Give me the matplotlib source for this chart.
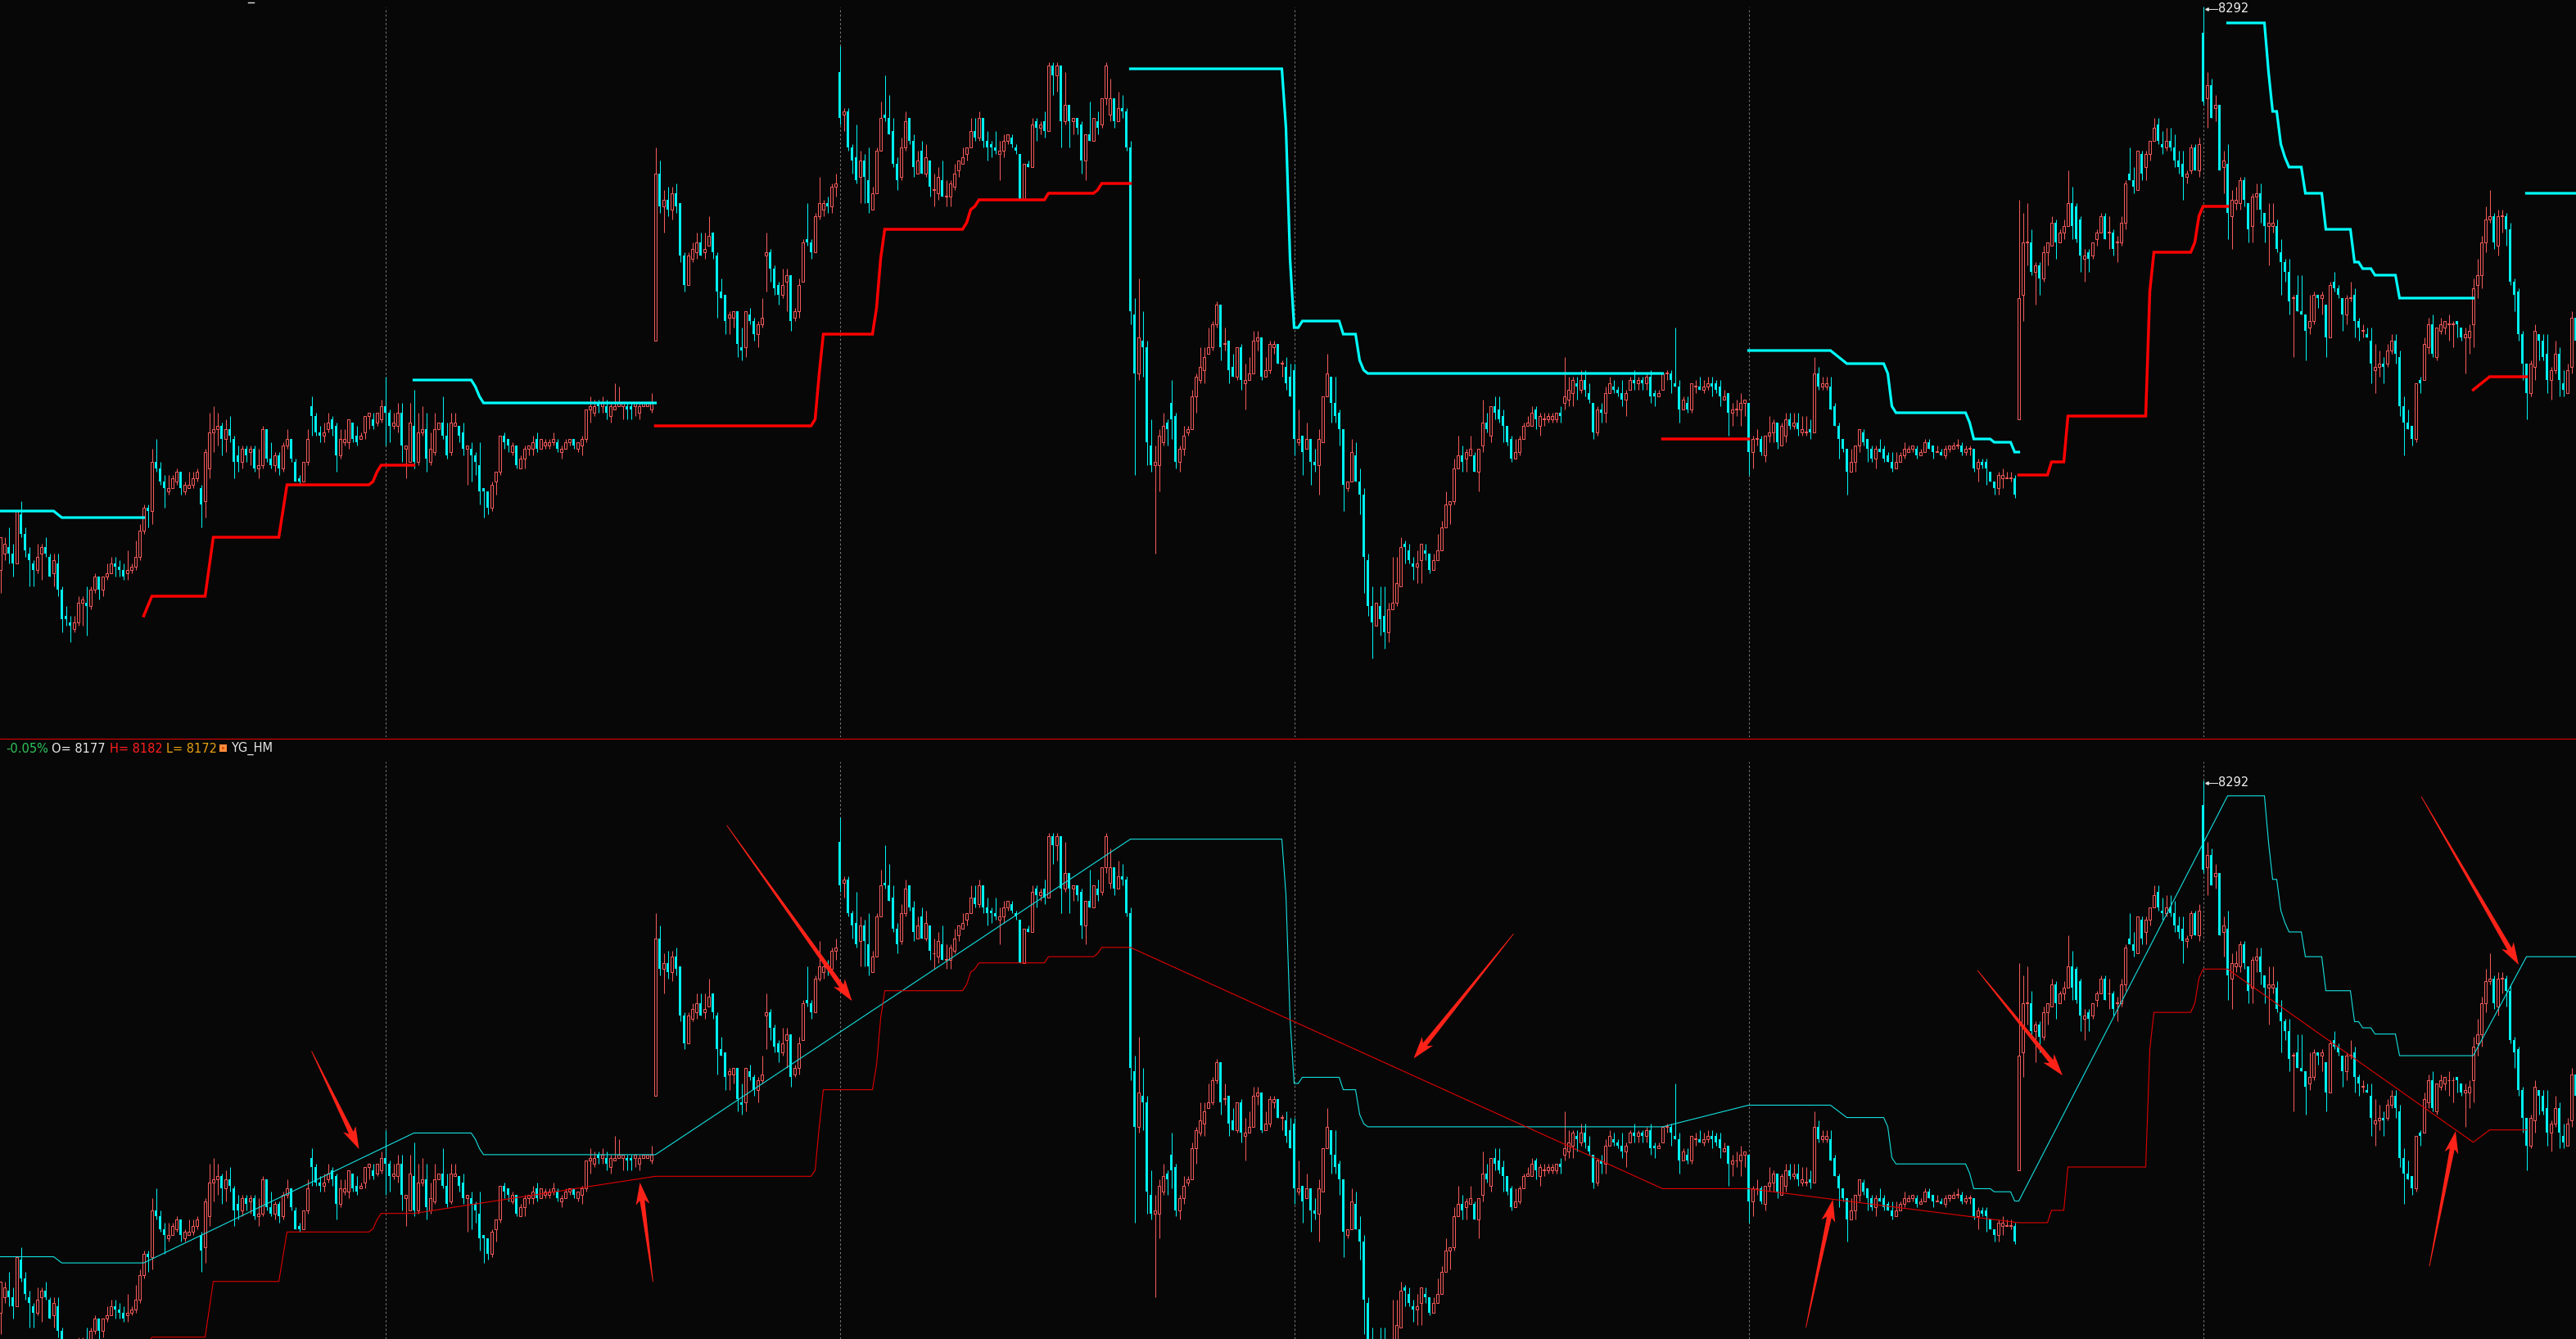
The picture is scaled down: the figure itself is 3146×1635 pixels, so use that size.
import numpy as np
import matplotlib.pyplot as plt
from matplotlib.lines import Line2D
from matplotlib.patches import Polygon, Rectangle
from matplotlib.transforms import IdentityTransform

# ---- candle data (one bar per row position) ----
opens = [
    8120, 8125, 8127, 8125, 8122, 8137, 8131, 8125, 8122, 8120,
    8125, 8127, 8124, 8119, 8122, 8114, 8106, 8104, 8102, 8104,
    8110, 8110, 8109, 8114, 8118, 8114, 8118, 8119, 8122, 8121,
    8120, 8119, 8120, 8121, 8124, 8132, 8139, 8138, 8153, 8151,
    8147, 8144, 8145, 8147, 8150, 8144, 8145, 8146, 8148, 8145,
    8141, 8151, 8162, 8163, 8164, 8160, 8163, 8160, 8155, 8153,
    8157, 8156, 8157, 8151, 8152, 8163, 8154, 8152, 8155, 8151,
    8158, 8160, 8153, 8148, 8147, 8153, 8170, 8167, 8162, 8161,
    8163, 8166, 8164, 8155, 8159, 8159, 8165, 8161, 8160, 8162,
    8167, 8166, 8165, 8166, 8170, 8168, 8164, 8164, 8168, 8157,
    8153, 8164, 8153, 8162, 8163, 8153, 8156, 8163, 8165, 8161,
    8156, 8164, 8164, 8162, 8157, 8157, 8155, 8152, 8145, 8144,
    8139, 8147, 8150, 8161, 8160, 8156, 8158, 8151, 8154, 8157,
    8157, 8160, 8157, 8158, 8158, 8159, 8159, 8156, 8157, 8159,
    8160, 8157, 8158, 8160, 8169, 8168, 8171, 8170, 8170, 8167,
    8169, 8170, 8170, 8170, 8170, 8170, 8168, 8170, 8170, 8169,
    8190, 8241, 8231, 8233, 8230, 8235, 8232, 8216, 8207, 8215,
    8217, 8220, 8217, 8219, 8223, 8216, 8205, 8204, 8197, 8197,
    8199, 8188, 8188, 8198, 8196, 8192, 8195, 8216, 8217, 8212,
    8207, 8204, 8208, 8210, 8197, 8199, 8208, 8221, 8220, 8217,
    8228, 8230, 8232, 8231, 8237, 8272, 8259, 8260, 8249, 8246,
    8240, 8245, 8239, 8230, 8235, 8248, 8259, 8258, 8254, 8244,
    8240, 8249, 8258, 8251, 8241, 8248, 8241, 8245, 8236, 8235,
    8239, 8234, 8234, 8237, 8242, 8244, 8247, 8249, 8254, 8252,
    8258, 8251, 8250, 8249, 8247, 8248, 8251, 8252, 8249, 8247,
    8233, 8244, 8243, 8257, 8255, 8257, 8254, 8274, 8271, 8274,
    8257, 8262, 8257, 8258, 8256, 8245, 8253, 8251, 8257, 8256,
    8264, 8259, 8264, 8257, 8261, 8260, 8249, 8198, 8180, 8190,
    8188, 8158, 8152, 8152, 8159, 8165, 8171, 8167, 8153, 8157,
    8162, 8163, 8173, 8178, 8181, 8186, 8188, 8195, 8201, 8189,
    8190, 8182, 8179, 8188, 8177, 8178, 8180, 8190, 8191, 8179,
    8181, 8188, 8189, 8183, 8182, 8179, 8181, 8159, 8161, 8157,
    8160, 8153, 8152, 8159, 8173, 8179, 8171, 8168, 8163, 8145,
    8147, 8155, 8147, 8143, 8123, 8109, 8103, 8109, 8106, 8101,
    8108, 8110, 8115, 8128, 8126, 8122, 8121, 8123, 8126, 8125,
    8120, 8123, 8126, 8133, 8140, 8141, 8151, 8155, 8154, 8155,
    8155, 8150, 8158, 8165, 8161, 8170, 8169, 8167, 8164, 8160,
    8154, 8156, 8160, 8164, 8164, 8169, 8164, 8166, 8166, 8166,
    8166, 8168, 8171, 8172, 8174, 8177, 8175, 8178, 8174, 8171,
    8162, 8169, 8168, 8174, 8176, 8175, 8174, 8172, 8175, 8178,
    8177, 8178, 8177, 8179, 8174, 8173, 8175, 8180, 8180, 8177,
    8176, 8169, 8171, 8169, 8176, 8176, 8175, 8176, 8177, 8177,
    8176, 8172, 8174, 8168, 8169, 8169, 8171, 8171, 8156, 8160,
    8160, 8155, 8161, 8162, 8165, 8158, 8161, 8166, 8164, 8165,
    8162, 8162, 8163, 8162, 8180, 8176, 8176, 8176, 8170, 8164,
    8160, 8157, 8150, 8153, 8158, 8162, 8160, 8157, 8154, 8157,
    8157, 8155, 8153, 8151, 8153, 8155, 8156, 8157, 8157, 8155,
    8156, 8159, 8158, 8156, 8156, 8155, 8157, 8157, 8158, 8158,
    8156, 8157, 8157, 8151, 8153, 8153, 8150, 8147, 8145, 8148,
    8148, 8148, 8148, 8166, 8204, 8220, 8220, 8211, 8213, 8209,
    8217, 8219, 8226, 8220, 8223, 8225, 8232, 8231, 8227, 8215,
    8217, 8216, 8221, 8223, 8228, 8223, 8223, 8220, 8220, 8226,
    8241, 8239, 8236, 8247, 8243, 8247, 8251, 8256, 8250, 8249,
    8251, 8249, 8245, 8244, 8240, 8242, 8249, 8242, 8284, 8264,
    8268, 8261, 8262, 8243, 8244, 8228, 8232, 8232, 8239, 8232,
    8225, 8234, 8235, 8229, 8225, 8225, 8225, 8217, 8214, 8211,
    8203, 8204, 8199, 8198, 8194, 8196, 8204, 8203, 8201, 8191,
    8208, 8206, 8203, 8198, 8203, 8204, 8196, 8193, 8192, 8190,
    8181, 8182, 8183, 8183, 8187, 8190, 8185, 8170, 8165, 8164,
    8160, 8178, 8178, 8188, 8195, 8185, 8193, 8194, 8195, 8195,
    8196, 8194, 8191, 8191, 8195, 8207, 8210, 8220, 8227, 8228,
    8219, 8228, 8228, 8224, 8208, 8205, 8192, 8183, 8174, 8182,
    8192, 8190, 8186, 8178, 8181, 8186, 8177, 8174, 8182, 8197,
]
highs = [
    8130, 8130, 8133, 8128, 8138, 8141, 8133, 8127, 8123, 8128,
    8128, 8130, 8125, 8125, 8125, 8115, 8109, 8106, 8106, 8112,
    8112, 8115, 8115, 8119, 8118, 8118, 8122, 8124, 8124, 8123,
    8122, 8126, 8122, 8129, 8134, 8140, 8140, 8157, 8160, 8153,
    8149, 8149, 8149, 8151, 8150, 8147, 8150, 8150, 8151, 8146,
    8157, 8168, 8170, 8168, 8165, 8166, 8167, 8161, 8158, 8158,
    8158, 8158, 8158, 8157, 8164, 8163, 8159, 8156, 8156, 8159,
    8163, 8160, 8154, 8149, 8153, 8163, 8173, 8168, 8164, 8165,
    8168, 8167, 8165, 8163, 8163, 8166, 8165, 8164, 8162, 8167,
    8168, 8168, 8168, 8172, 8179, 8169, 8168, 8171, 8171, 8158,
    8171, 8175, 8168, 8170, 8168, 8162, 8168, 8165, 8173, 8165,
    8168, 8168, 8164, 8165, 8158, 8159, 8156, 8159, 8145, 8144,
    8147, 8150, 8161, 8162, 8160, 8159, 8158, 8155, 8158, 8158,
    8161, 8162, 8160, 8160, 8160, 8162, 8160, 8158, 8160, 8160,
    8160, 8159, 8161, 8169, 8173, 8172, 8172, 8173, 8172, 8171,
    8177, 8176, 8171, 8171, 8171, 8171, 8171, 8171, 8171, 8174,
    8249, 8245, 8236, 8237, 8237, 8238, 8232, 8217, 8217, 8220,
    8223, 8223, 8223, 8228, 8223, 8217, 8209, 8204, 8199, 8199,
    8199, 8194, 8199, 8200, 8197, 8196, 8203, 8223, 8218, 8213,
    8208, 8212, 8212, 8210, 8200, 8209, 8221, 8232, 8221, 8229,
    8240, 8233, 8234, 8238, 8241, 8280, 8261, 8261, 8250, 8256,
    8248, 8247, 8249, 8237, 8249, 8263, 8271, 8265, 8258, 8246,
    8252, 8260, 8258, 8253, 8248, 8251, 8250, 8245, 8241, 8243,
    8245, 8239, 8239, 8244, 8245, 8249, 8249, 8258, 8258, 8260,
    8258, 8254, 8251, 8254, 8251, 8253, 8253, 8253, 8250, 8247,
    8244, 8245, 8258, 8258, 8257, 8260, 8275, 8275, 8275, 8274,
    8272, 8262, 8258, 8258, 8257, 8253, 8263, 8258, 8260, 8264,
    8275, 8270, 8264, 8266, 8265, 8261, 8251, 8203, 8209, 8199,
    8190, 8166, 8158, 8163, 8168, 8166, 8178, 8168, 8158, 8164,
    8164, 8175, 8180, 8188, 8188, 8194, 8196, 8202, 8201, 8194,
    8190, 8186, 8188, 8189, 8183, 8185, 8193, 8193, 8191, 8185,
    8190, 8190, 8189, 8184, 8185, 8183, 8183, 8169, 8161, 8165,
    8160, 8157, 8163, 8173, 8186, 8179, 8179, 8169, 8163, 8147,
    8160, 8159, 8151, 8145, 8125, 8115, 8110, 8115, 8115, 8110,
    8124, 8124, 8130, 8129, 8128, 8124, 8126, 8128, 8128, 8125,
    8125, 8131, 8135, 8144, 8141, 8154, 8161, 8158, 8157, 8161,
    8156, 8157, 8172, 8168, 8170, 8173, 8173, 8169, 8164, 8161,
    8160, 8161, 8165, 8167, 8170, 8170, 8168, 8168, 8168, 8168,
    8168, 8170, 8185, 8179, 8179, 8179, 8181, 8181, 8177, 8171,
    8170, 8171, 8176, 8179, 8178, 8176, 8178, 8175, 8179, 8181,
    8179, 8179, 8180, 8181, 8175, 8175, 8180, 8181, 8181, 8194,
    8178, 8173, 8173, 8177, 8178, 8179, 8178, 8179, 8179, 8178,
    8178, 8175, 8174, 8171, 8172, 8174, 8172, 8171, 8161, 8163,
    8161, 8161, 8167, 8166, 8165, 8165, 8168, 8168, 8168, 8168,
    8167, 8167, 8166, 8185, 8182, 8179, 8179, 8179, 8171, 8165,
    8160, 8157, 8157, 8158, 8163, 8163, 8160, 8158, 8158, 8160,
    8158, 8156, 8156, 8156, 8156, 8159, 8158, 8158, 8158, 8157,
    8160, 8160, 8158, 8158, 8157, 8158, 8158, 8159, 8160, 8159,
    8158, 8158, 8157, 8154, 8154, 8154, 8150, 8147, 8150, 8151,
    8150, 8150, 8149, 8233, 8229, 8232, 8224, 8214, 8214, 8219,
    8220, 8228, 8227, 8224, 8227, 8242, 8237, 8232, 8228, 8218,
    8218, 8220, 8224, 8229, 8229, 8228, 8224, 8222, 8228, 8239,
    8249, 8243, 8248, 8248, 8248, 8251, 8258, 8258, 8254, 8255,
    8255, 8253, 8248, 8248, 8242, 8250, 8250, 8252, 8292, 8272,
    8270, 8265, 8262, 8248, 8250, 8236, 8237, 8240, 8240, 8232,
    8235, 8238, 8238, 8229, 8232, 8232, 8227, 8221, 8215, 8215,
    8204, 8210, 8210, 8198, 8204, 8205, 8204, 8205, 8201, 8208,
    8211, 8207, 8203, 8204, 8208, 8206, 8197, 8195, 8194, 8194,
    8189, 8187, 8185, 8189, 8192, 8192, 8187, 8173, 8169, 8164,
    8177, 8179, 8191, 8197, 8198, 8194, 8197, 8196, 8198, 8196,
    8196, 8194, 8194, 8195, 8209, 8215, 8222, 8231, 8236, 8229,
    8230, 8230, 8229, 8226, 8209, 8206, 8193, 8183, 8184, 8195,
    8192, 8192, 8192, 8182, 8190, 8188, 8181, 8183, 8199, 8199,
]
lows = [
    8113, 8123, 8122, 8118, 8122, 8130, 8124, 8115, 8115, 8119,
    8117, 8124, 8118, 8115, 8112, 8101, 8103, 8098, 8101, 8103,
    8103, 8100, 8108, 8113, 8111, 8112, 8117, 8119, 8118, 8118,
    8117, 8117, 8119, 8120, 8123, 8131, 8133, 8134, 8150, 8146,
    8139, 8143, 8145, 8146, 8143, 8143, 8145, 8145, 8147, 8133,
    8136, 8148, 8156, 8158, 8155, 8156, 8159, 8148, 8150, 8151,
    8153, 8152, 8150, 8148, 8151, 8153, 8151, 8150, 8149, 8150,
    8157, 8153, 8147, 8146, 8147, 8152, 8161, 8161, 8159, 8159,
    8162, 8161, 8150, 8154, 8158, 8157, 8159, 8158, 8160, 8160,
    8163, 8163, 8164, 8165, 8158, 8159, 8163, 8162, 8153, 8148,
    8153, 8151, 8152, 8161, 8150, 8152, 8155, 8163, 8160, 8154,
    8155, 8164, 8159, 8155, 8146, 8147, 8149, 8140, 8136, 8137,
    8138, 8143, 8149, 8157, 8156, 8155, 8151, 8151, 8151, 8155,
    8155, 8156, 8157, 8157, 8157, 8158, 8156, 8154, 8157, 8158,
    8157, 8156, 8155, 8159, 8165, 8167, 8168, 8168, 8166, 8165,
    8169, 8170, 8166, 8166, 8166, 8167, 8166, 8170, 8170, 8168,
    8190, 8229, 8223, 8228, 8227, 8229, 8214, 8205, 8207, 8214,
    8215, 8216, 8215, 8219, 8215, 8197, 8203, 8192, 8192, 8194,
    8185, 8184, 8185, 8195, 8190, 8188, 8194, 8205, 8208, 8204,
    8201, 8203, 8199, 8193, 8196, 8197, 8208, 8219, 8215, 8217,
    8227, 8228, 8229, 8229, 8234, 8256, 8254, 8248, 8241, 8238,
    8232, 8232, 8229, 8230, 8235, 8248, 8257, 8253, 8243, 8236,
    8239, 8248, 8250, 8240, 8241, 8241, 8240, 8234, 8231, 8233,
    8234, 8231, 8231, 8236, 8240, 8244, 8245, 8249, 8251, 8251,
    8249, 8245, 8246, 8247, 8239, 8246, 8250, 8249, 8247, 8233,
    8233, 8243, 8243, 8251, 8253, 8252, 8254, 8265, 8266, 8249,
    8256, 8249, 8253, 8253, 8241, 8239, 8251, 8251, 8253, 8255,
    8262, 8257, 8255, 8257, 8258, 8248, 8195, 8149, 8178, 8179,
    8152, 8150, 8125, 8144, 8158, 8158, 8160, 8151, 8150, 8155,
    8161, 8163, 8168, 8177, 8177, 8186, 8187, 8194, 8184, 8187,
    8177, 8179, 8178, 8175, 8169, 8178, 8180, 8187, 8178, 8179,
    8180, 8186, 8183, 8179, 8175, 8173, 8155, 8158, 8149, 8157,
    8146, 8150, 8143, 8159, 8173, 8165, 8165, 8158, 8138, 8144,
    8147, 8147, 8137, 8113, 8106, 8093, 8103, 8100, 8096, 8098,
    8108, 8109, 8115, 8122, 8122, 8117, 8116, 8116, 8123, 8119,
    8120, 8123, 8126, 8133, 8134, 8140, 8151, 8150, 8150, 8155,
    8150, 8144, 8156, 8162, 8159, 8166, 8165, 8159, 8158, 8153,
    8154, 8155, 8160, 8164, 8164, 8163, 8161, 8164, 8165, 8165,
    8165, 8165, 8169, 8170, 8170, 8172, 8174, 8173, 8171, 8160,
    8161, 8165, 8165, 8174, 8174, 8173, 8170, 8167, 8175, 8175,
    8175, 8175, 8175, 8171, 8170, 8173, 8175, 8178, 8174, 8176,
    8165, 8169, 8168, 8168, 8174, 8175, 8174, 8175, 8173, 8174,
    8170, 8172, 8161, 8164, 8167, 8164, 8167, 8149, 8151, 8158,
    8155, 8153, 8159, 8159, 8157, 8158, 8159, 8163, 8163, 8161,
    8161, 8161, 8160, 8162, 8175, 8175, 8175, 8169, 8164, 8154,
    8156, 8143, 8150, 8150, 8156, 8158, 8153, 8153, 8151, 8156,
    8153, 8153, 8150, 8151, 8153, 8154, 8156, 8156, 8154, 8155,
    8156, 8157, 8154, 8156, 8155, 8154, 8156, 8157, 8157, 8155,
    8155, 8155, 8150, 8147, 8151, 8146, 8147, 8143, 8143, 8145,
    8148, 8147, 8142, 8166, 8196, 8213, 8210, 8201, 8204, 8208,
    8213, 8219, 8215, 8220, 8221, 8225, 8221, 8220, 8211, 8208,
    8211, 8215, 8219, 8223, 8221, 8218, 8216, 8214, 8219, 8224,
    8239, 8235, 8236, 8239, 8239, 8245, 8251, 8250, 8247, 8248,
    8248, 8243, 8241, 8233, 8238, 8241, 8242, 8240, 8262, 8255,
    8258, 8257, 8242, 8235, 8221, 8218, 8230, 8230, 8231, 8220,
    8220, 8230, 8226, 8220, 8213, 8223, 8217, 8204, 8208, 8198,
    8185, 8199, 8198, 8184, 8192, 8195, 8200, 8198, 8185, 8191,
    8205, 8203, 8193, 8195, 8202, 8191, 8190, 8191, 8191, 8177,
    8174, 8179, 8177, 8182, 8186, 8183, 8167, 8155, 8163, 8158,
    8159, 8174, 8178, 8186, 8185, 8184, 8192, 8192, 8190, 8188,
    8191, 8190, 8180, 8186, 8188, 8203, 8206, 8217, 8226, 8218,
    8216, 8223, 8219, 8207, 8199, 8190, 8178, 8166, 8173, 8178,
    8184, 8184, 8174, 8172, 8180, 8173, 8173, 8174, 8180, 8188,
]
closes = [
    8130, 8128, 8125, 8122, 8138, 8131, 8126, 8123, 8120, 8124,
    8127, 8125, 8118, 8123, 8114, 8105, 8105, 8103, 8104, 8110,
    8111, 8109, 8114, 8118, 8114, 8118, 8119, 8122, 8121, 8120,
    8118, 8120, 8121, 8124, 8132, 8139, 8138, 8153, 8151, 8147,
    8145, 8145, 8148, 8150, 8145, 8146, 8146, 8148, 8150, 8140,
    8156, 8162, 8163, 8164, 8160, 8163, 8161, 8153, 8153, 8157,
    8155, 8157, 8151, 8152, 8163, 8154, 8152, 8155, 8151, 8158,
    8160, 8154, 8147, 8147, 8153, 8160, 8167, 8162, 8161, 8162,
    8165, 8163, 8155, 8160, 8160, 8166, 8160, 8159, 8161, 8167,
    8168, 8164, 8168, 8170, 8168, 8164, 8165, 8168, 8158, 8158,
    8165, 8153, 8162, 8163, 8154, 8157, 8163, 8165, 8161, 8155,
    8165, 8165, 8161, 8157, 8158, 8155, 8153, 8144, 8144, 8139,
    8146, 8150, 8161, 8159, 8158, 8158, 8152, 8154, 8157, 8158,
    8159, 8157, 8160, 8159, 8159, 8160, 8157, 8157, 8159, 8160,
    8158, 8159, 8160, 8169, 8170, 8170, 8170, 8171, 8168, 8170,
    8170, 8171, 8171, 8169, 8169, 8171, 8170, 8171, 8171, 8171,
    8241, 8231, 8233, 8230, 8235, 8231, 8216, 8207, 8216, 8218,
    8220, 8216, 8218, 8222, 8217, 8205, 8203, 8196, 8198, 8199,
    8189, 8187, 8199, 8196, 8192, 8195, 8197, 8217, 8212, 8206,
    8204, 8207, 8210, 8196, 8199, 8207, 8220, 8220, 8217, 8228,
    8232, 8232, 8231, 8237, 8238, 8258, 8260, 8249, 8245, 8239,
    8245, 8240, 8232, 8235, 8248, 8258, 8258, 8253, 8244, 8239,
    8249, 8257, 8251, 8243, 8245, 8241, 8246, 8237, 8236, 8240,
    8234, 8234, 8238, 8241, 8245, 8246, 8249, 8254, 8252, 8258,
    8251, 8249, 8249, 8248, 8248, 8251, 8253, 8250, 8248, 8233,
    8244, 8243, 8256, 8255, 8256, 8254, 8274, 8271, 8274, 8257,
    8262, 8257, 8258, 8255, 8245, 8253, 8251, 8258, 8255, 8264,
    8274, 8264, 8257, 8261, 8260, 8249, 8199, 8180, 8191, 8188,
    8159, 8152, 8153, 8161, 8164, 8163, 8166, 8153, 8157, 8161,
    8163, 8173, 8179, 8182, 8185, 8188, 8195, 8201, 8188, 8189,
    8181, 8179, 8188, 8178, 8178, 8180, 8190, 8191, 8179, 8181,
    8189, 8189, 8183, 8183, 8177, 8173, 8160, 8160, 8156, 8160,
    8153, 8152, 8160, 8173, 8180, 8171, 8167, 8163, 8146, 8147,
    8156, 8147, 8143, 8124, 8109, 8104, 8110, 8105, 8101, 8108,
    8110, 8116, 8127, 8127, 8123, 8121, 8122, 8128, 8125, 8120,
    8123, 8126, 8133, 8140, 8141, 8151, 8155, 8153, 8156, 8157,
    8150, 8157, 8165, 8163, 8170, 8168, 8166, 8164, 8159, 8154,
    8156, 8160, 8164, 8165, 8168, 8166, 8167, 8166, 8167, 8167,
    8168, 8167, 8173, 8175, 8178, 8176, 8178, 8175, 8172, 8162,
    8169, 8168, 8174, 8177, 8175, 8174, 8172, 8174, 8178, 8177,
    8178, 8177, 8179, 8173, 8173, 8174, 8180, 8180, 8178, 8176,
    8169, 8172, 8169, 8177, 8176, 8175, 8176, 8177, 8176, 8175,
    8173, 8173, 8168, 8169, 8169, 8171, 8172, 8156, 8160, 8160,
    8156, 8161, 8162, 8165, 8159, 8164, 8166, 8164, 8165, 8163,
    8163, 8162, 8162, 8180, 8176, 8177, 8177, 8169, 8164, 8160,
    8157, 8150, 8153, 8158, 8163, 8159, 8157, 8154, 8157, 8156,
    8154, 8153, 8151, 8153, 8155, 8157, 8157, 8158, 8155, 8156,
    8159, 8157, 8156, 8156, 8155, 8157, 8158, 8158, 8158, 8156,
    8157, 8157, 8151, 8153, 8152, 8151, 8147, 8145, 8149, 8149,
    8148, 8148, 8143, 8203, 8220, 8220, 8211, 8213, 8209, 8217,
    8220, 8226, 8220, 8223, 8225, 8232, 8225, 8221, 8216, 8216,
    8215, 8220, 8223, 8228, 8221, 8223, 8218, 8220, 8226, 8238,
    8239, 8237, 8248, 8241, 8247, 8251, 8255, 8251, 8249, 8251,
    8249, 8245, 8243, 8240, 8241, 8249, 8242, 8250, 8263, 8268,
    8258, 8262, 8242, 8245, 8229, 8233, 8233, 8239, 8233, 8224,
    8234, 8235, 8230, 8225, 8226, 8226, 8218, 8214, 8211, 8202,
    8203, 8199, 8198, 8193, 8196, 8204, 8203, 8204, 8191, 8207,
    8206, 8204, 8198, 8203, 8203, 8196, 8194, 8193, 8191, 8183,
    8182, 8183, 8182, 8187, 8190, 8186, 8170, 8165, 8163, 8160,
    8177, 8177, 8189, 8195, 8186, 8194, 8195, 8196, 8195, 8195,
    8195, 8191, 8192, 8193, 8206, 8210, 8220, 8227, 8228, 8220,
    8228, 8228, 8224, 8208, 8204, 8192, 8183, 8174, 8183, 8193,
    8190, 8185, 8178, 8181, 8186, 8178, 8175, 8181, 8197, 8190,
]

day_starts = [94, 205, 316, 427, 538]

# trend lines: value holds from each breakpoint to the next, nan = line off
nan = np.nan
upper_idx = [0, 14, 15, 36, 101, 116, 117, 118, 161, 276, 314, 315, 316, 318,
             328, 332, 333, 334, 407, 427, 448, 449, 450, 451, 461, 462, 463,
             481, 482, 487, 492, 494, 544, 554, 555, 557, 558, 559, 563, 568,
             575, 577, 580, 586, 605, 617]
upper_val = [8138, 8137, 8136, nan, 8178, 8176, 8173, 8171, nan, 8273, 8255,
             8215, 8194, 8196, 8192, 8184, 8181, 8180, nan, 8187, 8186, 8185,
             8184, 8183, 8180, 8170, 8168, 8165, 8160, 8159, 8156, nan, 8287,
             8272, 8260, 8250, 8246, 8243, 8235, 8224, 8214, 8212, 8210, 8203,
             nan, 8235]
lower_idx = [0, 35, 36, 37, 51, 52, 69, 70, 91, 92, 93, 102, 160, 199, 200,
             201, 214, 215, 216, 236, 237, 238, 239, 256, 268, 269, 277, 406,
             428, 493, 501, 505, 525, 526, 536, 537, 538, 545, 604, 605, 606,
             607, 608, 618]
lower_val = [nan, 8106, 8109, 8112, 8121, 8130, 8138, 8146, 8147, 8150, 8152,
             nan, 8164, 8166, 8180, 8192, 8200, 8215, 8224, 8226, 8230, 8231,
             8233, 8235, 8236, 8238, nan, 8160, nan, 8149, 8153, 8167, 8205,
             8217, 8220, 8228, 8231, nan, 8175, 8176, 8177, 8178, 8179, nan]

peak_idx = 538
peak_price = 8292

header_parts = [("-0.05%", "#2fc45a", 7), ("O= 8177", "#e6e6e6", 63),
                ("H= 8182", "#ff1e1e", 134), ("L= 8172", "#e8a010", 203),
                ("YG_HM", "#e6e6e6", 282)]

# annotation arrows in the lower panel: (tail, tip) as (bar, price)
arrows = [((76.0, 8204.5), (87.6, 8172.8)),
          ((159.4, 8129.8), (156.2, 8162.0)),
          ((177.4, 8277.5), (208.0, 8220.7)),
          ((369.6, 8242.4), (345.2, 8202.1)),
          ((441.0, 8115.1), (447.6, 8156.5)),
          ((482.9, 8230.6), (503.7, 8196.6)),
          ((593.3, 8134.9), (599.7, 8178.6)),
          ((591.3, 8286.8), (615.1, 8232.4))]

BG = "#070707"
UP = "#f25a5a"
DOWN = "#00f0f0"
CYAN_LINE = "#00ffff"
RED_LINE = "#ff0000"

o = np.array(opens, float)
h = np.array(highs, float)
l = np.array(lows, float)
c = np.array(closes, float)
n = len(c)
assert len(o) == len(h) == len(l) == n
x = np.arange(n)


def step_series(idx, val, size):
    out = np.full(size, np.nan)
    for k, start in enumerate(idx):
        end = idx[k + 1] if k + 1 < len(idx) else size
        out[start:end] = val[k]
    return out


upper = step_series(upper_idx, upper_val, n)
lower = step_series(lower_idx, lower_val, n)

W, H = 3146, 1635
fig = plt.figure(figsize=(W / 100, H / 100), dpi=100, facecolor=BG)
ax_top = fig.add_axes([0, 1 - 900 / H, 1, 900 / H])
ax_bot = fig.add_axes([0, 0, 1, (H - 904) / H])

ax_top.set_ylim(8294 - 900 / 4, 8294)
ax_bot.set_ylim(8111.4, 8294 + (945.5 - 904) / 3.792)


def draw_candles(ax):
    up = c >= o
    ax.vlines(x[up], l[up], h[up], color=UP, lw=0.75, zorder=2)
    ax.vlines(x[~up], l[~up], h[~up], color=DOWN, lw=0.75, zorder=2)
    lo = np.minimum(o, c)
    ht = np.maximum(np.abs(c - o), 0.15)
    ax.bar(x[up], ht[up], bottom=lo[up], width=0.5, facecolor=BG,
           edgecolor=UP, linewidth=0.75, zorder=3)
    ax.bar(x[~up], ht[~up], bottom=lo[~up], width=0.66, color=DOWN,
           linewidth=0, zorder=3)


for ax, top_frac in ((ax_top, 0.99), (ax_bot, 0.964)):
    ax.set_facecolor(BG)
    ax.set_xlim(-0.1, W / 5 - 0.1)
    ax.axis("off")
    for d in day_starts:
        ax.axvline(d, 0, top_frac, color="#777777", lw=0.75,
                   ls=(0, (2.5, 2.5)), zorder=1)
    draw_candles(ax)
    # peak label
    ax.plot([peak_idx + 0.9, peak_idx + 3.5], [peak_price - 0.7] * 2,
            color="#dddddd", lw=0.75, zorder=5)
    ax.plot([peak_idx + 0.9], [peak_price - 0.7], marker="<", ms=2.5,
            color="#dddddd", zorder=5)
    ax.text(peak_idx + 3.7, peak_price - 0.7, "8292", color="#f0f0f0",
            fontsize=10.5, va="center", ha="left", zorder=5)

# upper panel: thick stepped lines with gaps
ax_top.plot(x, upper, color=CYAN_LINE, lw=2.3, zorder=4,
            solid_joinstyle="miter")
ax_top.plot(x, lower, color=RED_LINE, lw=2.5, zorder=4,
            solid_joinstyle="miter")

# lower panel: same lines, gaps bridged by the line itself
mu = np.isfinite(upper)
ml = np.isfinite(lower)
ax_bot.plot(x[mu], upper[mu], color="#14e0e0", lw=0.8, zorder=4)
ax_bot.plot(x[ml], lower[ml], color="#e00000", lw=0.8, zorder=4)


def draw_arrow(ax, tail, tip, color="#ff2218"):
    p0 = ax.transData.transform(tail)
    p1 = ax.transData.transform(tip)
    d = p1 - p0
    d = d / np.hypot(*d)
    nv = np.array([-d[1], d[0]])
    hl, hw, sw = 22, 8.5, 3.0
    base = p1 - d * hl
    barb = p1 - d * (hl + 5)
    pts = [p0 + nv * 0.4, base + nv * sw, barb + nv * hw, p1,
           barb - nv * hw, base - nv * sw, p0 - nv * 0.4]
    ax.add_patch(Polygon(pts, closed=True, transform=IdentityTransform(),
                         facecolor=color, edgecolor="none", zorder=6,
                         clip_on=False))


for tail, tip in arrows:
    draw_arrow(ax_bot, tail, tip)

# separator between panels
fig.add_artist(Line2D([0, 1], [1 - 902 / H] * 2, color="#e00000", lw=0.8))
# small mark at the very top edge
fig.add_artist(Line2D([303 / W, 310 / W], [1 - 3 / H] * 2, color="#e0e0e0",
                      lw=1.0))

# header line of the lower panel
yh = 1 - 914 / H
for txt, col, px in header_parts:
    fig.text(px / W, yh, txt, color=col, fontsize=10.5, va="center",
             ha="left", family="DejaVu Sans")
fig.add_artist(Rectangle((268 / W, 1 - 918 / H), 9 / W, 9 / H,
                         transform=fig.transFigure, facecolor="#ff8a3a",
                         edgecolor="none"))
fig.add_artist(Rectangle((271 / W, 1 - 915 / H), 3 / W, 3 / H,
                         transform=fig.transFigure, facecolor="#d85a10",
                         edgecolor="none"))

fig.savefig("out.png", dpi=100, facecolor=BG)
